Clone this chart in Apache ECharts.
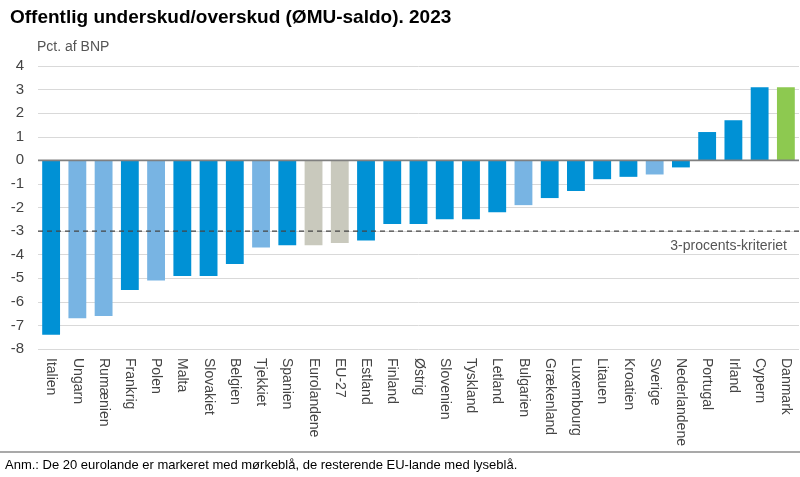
<!DOCTYPE html>
<html><head><meta charset="utf-8">
<script src="https://cdn.jsdelivr.net/npm/echarts@6/dist/echarts.min.js"></script>
<style>html,body{margin:0;padding:0;background:#fff;}#c{width:800px;height:477px;}</style>
</head><body><div id="c"></div>
<script>
const categories = ["Italien","Ungarn","Rumænien","Frankrig","Polen","Malta","Slovakiet","Belgien","Tjekkiet","Spanien","Eurolandene","EU-27","Estland","Finland","Østrig","Slovenien","Tyskland","Letland","Bulgarien","Grækenland","Luxembourg","Litauen","Kroatien","Sverige","Nederlandene","Portugal","Irland","Cypern","Danmark"];
const values = [-7.4,-6.7,-6.6,-5.5,-5.1,-4.9,-4.9,-4.4,-3.7,-3.6,-3.6,-3.5,-3.4,-2.7,-2.7,-2.5,-2.5,-2.2,-1.9,-1.6,-1.3,-0.8,-0.7,-0.6,-0.3,1.2,1.7,3.1,3.1];
// group: e = euro country, n = non-euro EU country, a = aggregate, d = Danmark
const groups = ["e","n","n","e","n","e","e","e","n","e","a","a","e","e","e","e","e","e","n","e","e","e","e","n","e","e","e","e","d"];
const groupColors = {e:"#0091d5", n:"#78b4e3", a:"#c9c9bd", d:"#8dc950"};
const yTicks = [-8,-7,-6,-5,-4,-3,-2,-1,0,1,2,3,4];
const criterion = -3;
const criterionLabel = '3-procents-kriteriet';

const chart = echarts.init(document.getElementById('c'), null, {renderer:'canvas'});
const font = "'Liberation Sans', Arial, sans-serif";
const n = categories.length;
chart.setOption({
  animation:false,
  backgroundColor:'#fff',
  title:{text:'Offentlig underskud/overskud (ØMU-saldo). 2023', left:5, top:3,
    textStyle:{fontFamily:font, fontSize:19, fontWeight:'bold', color:'#000'}},
  grid:{left:38, right:1, top:66, bottom:128},
  xAxis:[{type:'category', data:categories,
    axisLine:{show:false}, axisTick:{show:false},
    axisLabel:{rotate:-90, interval:0, margin:9, fontFamily:font, fontSize:14, color:'#444'}},
    {type:'value', min:0, max:n, show:false}],
  yAxis:{type:'value', min:yTicks[0], max:yTicks[yTicks.length-1], interval:1,
    name:'Pct. af BNP', nameLocation:'end', nameGap:12,
    nameTextStyle:{fontFamily:font, fontSize:14, color:'#555', align:'left', padding:[0,0,0,-1]},
    axisLine:{show:false}, axisTick:{show:false},
    axisLabel:{margin:14, fontFamily:font, fontSize:15, color:'#444'},
    splitLine:{lineStyle:{color:'#d9d9d9', width:1}}},
  series:[{
    type:'bar', barWidth:'68%',
    data:values.map((v,i)=>({value:v, itemStyle:{color:groupColors[groups[i]]}})),
    z:2
  },{
    type:'line', xAxisIndex:1, data:[[0,0],[n,0]], symbol:'none', silent:true, z:8,
    lineStyle:{color:'#808080', width:1.6}
  },{
    type:'line', xAxisIndex:1, data:[[0,criterion],[n,criterion]], symbol:'none', silent:true, z:9,
    lineStyle:{type:[5,4], color:'#444', width:1.2},
    endLabel:{show:true, formatter:criterionLabel, align:'right', verticalAlign:'top', offset:[-20,8],
      fontFamily:font, fontSize:14, color:'#555'}
  }],
  graphic:[
    {type:'line', shape:{x1:0,y1:452,x2:800,y2:452}, style:{stroke:'#8c8c8c', lineWidth:1.5}},
    {type:'text', left:5, top:459, style:{text:'Anm.: De 20 eurolande er markeret med mørkeblå, de resterende EU-lande med lyseblå.', font:"13px 'Liberation Sans', Arial, sans-serif", fill:'#000'}}
  ]
});
</script></body></html>
